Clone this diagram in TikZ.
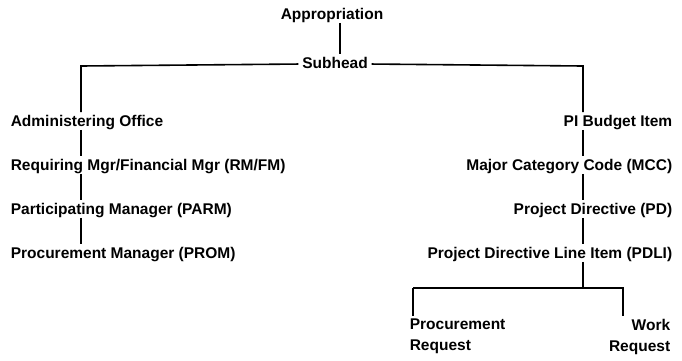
\documentclass[tikz,border=0pt]{standalone}
\usepackage{fontspec}
\setmainfont{Liberation Sans}
\usetikzlibrary{positioning}

\begin{document}
\begin{tikzpicture}[x=1pt, y=1pt, line width=1.6pt, shorten >=2pt]

        \tikzstyle{item}=[inner sep=0pt, font=\bfseries\fontsize{15.5}{21}\selectfont, text height=11pt, text depth=3pt]
        \tikzstyle{pair}=[inner sep=0pt, font=\bfseries\fontsize{15.5}{21}\selectfont]

        \useasboundingbox (0,0) rectangle (682,-360);

        \node[item]                       (ap)   at (332,-15)  {Appropriation};
        \node[item]                       (sh)   at (335,-64)  {Subhead};

        % left column
        \node[item, anchor=west]          (ao)   at (10,-122)  {Administering Office};
        \node[item]  (rf)  [below=44pt of ao.west, anchor=west]  {Requiring Mgr/Financial Mgr (RM/FM)};
        \node[item]  (pa)  [below=44pt of rf.west, anchor=west]  {Participating Manager (PARM)};
        \node[item]  (pm)  [below=44pt of pa.west, anchor=west]  {Procurement Manager (PROM)};

        % right column
        \node[item, anchor=east]          (bi)   at (673,-122) {PI Budget Item};
        \node[item]  (mc)  [below=44pt of bi.east, anchor=east]  {Major Category Code (MCC)};
        \node[item]  (pd)  [below=44pt of mc.east, anchor=east]  {Project Directive (PD)};
        \node[item]  (pl)  [below=44pt of pd.east, anchor=east]  {Project Directive Line Item (PDLI)};

        \node[pair, anchor=north west, align=left]  (pr) at (409,-318) {Procurement\\Request};
        \node[pair, anchor=north east, align=right] (wr) at (671,-318) {Work\\Request};

        \coordinate (ls) at (81,-66);
        \coordinate (rs) at (583,-66);
        \coordinate (fk) at (583,-288);
        \coordinate (fl) at (413,-288);
        \coordinate (fr) at (623,-288);

        \path
        ([xshift=8pt]ap.south) edge ([xshift=8pt]ap.south |- sh.north)
        ;

        \draw[shorten <=3pt] (sh.west) -- (ls) -- (ls |- ao.north);
        \draw[shorten <=3pt] (sh.east) -- (rs) -- (rs |- bi.north);

        \draw (ao.south -| ls) -- (rf.north -| ls);
        \draw (rf.south -| ls) -- (pa.north -| ls);
        \draw (pa.south -| ls) -- (pm.north -| ls);

        \draw (bi.south -| rs) -- (mc.north -| rs);
        \draw (mc.south -| rs) -- (pd.north -| rs);
        \draw (pd.south -| rs) -- (pl.north -| rs);

        \draw[shorten >=0pt] (pl.south -| fk) -- (fk);
        \draw (fl) -- (fr) -- (fr |- wr.north);
        \draw (fl) -- (fl |- pr.north);

\end{tikzpicture}
\end{document}
